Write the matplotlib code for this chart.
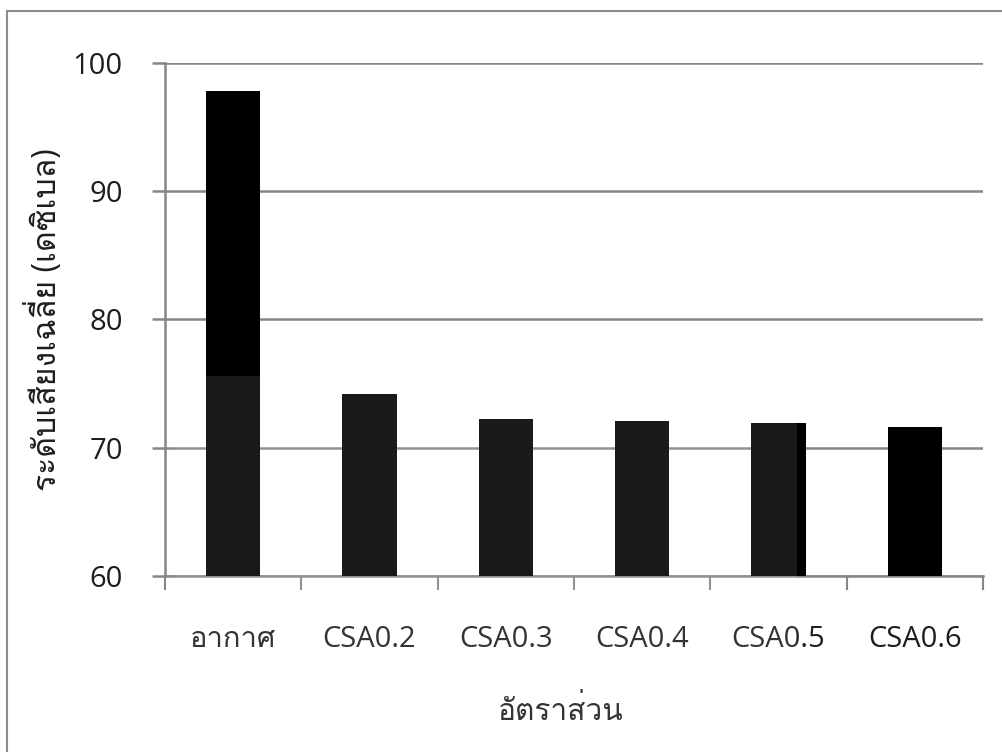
import matplotlib
matplotlib.use("Agg")
import matplotlib.pyplot as plt
from matplotlib import font_manager
from matplotlib.ft2font import FT2Font
from matplotlib.patches import Rectangle

categories = ["อากาศ", "CSA0.2", "CSA0.3", "CSA0.4", "CSA0.5", "CSA0.6"]
values = [97.8, 74.2, 72.2, 72.05, 71.9, 71.6]
y_ticks = [60, 70, 80, 90, 100]
x_label = "อัตราส่วน"
y_label = "ระดับเสียงเฉลี่ย (เดซิเบล)"

# find a regular-weight font that covers Thai
best = None
for f in font_manager.fontManager.ttflist:
    try:
        cm = FT2Font(f.fname).get_charmap()
    except Exception:
        continue
    if 0x0E01 in cm and 0x0E32 in cm and f.style == "normal":
        w = f.weight if isinstance(f.weight, int) else 400
        score = abs(w - 400)
        if best is None or score < best[0]:
            best = (score, f)
thai_font = best[1] if best else None

families = ["Open Sans", "DejaVu Sans"]
if thai_font is not None:
    font_manager.fontManager.addfont(thai_font.fname)
    families = ["Open Sans", thai_font.name, "DejaVu Sans"]
plt.rcParams["font.family"] = families

W, H = 1003, 752
fig = plt.figure(figsize=(W / 100, H / 100), dpi=100)
fig.patch.set_facecolor("white")

left, right, top, bottom = 165, 983, 62.5, 576
ax = fig.add_axes([left / W, 1 - bottom / H, (right - left) / W, (bottom - top) / H])

grid_c = "#868686"
txt_c = "#1e1e1e"
x = list(range(len(categories)))
ax.bar(x, [v - 60 for v in values], bottom=60, width=0.4, color="black", zorder=3)

ax.set_xlim(-0.5, len(categories) - 0.5)
ax.set_ylim(60, 100)
ax.set_yticks(y_ticks)
ax.yaxis.grid(True, color=grid_c, linewidth=1.8, zorder=0)
ax.set_axisbelow(True)

for s in ["top", "right"]:
    ax.spines[s].set_visible(False)
for s in ["left", "bottom"]:
    ax.spines[s].set_color(grid_c)
    ax.spines[s].set_linewidth(1.8)

ax.set_xticks(x)
ax.set_xticklabels(categories)
ax.set_xticks([i - 0.5 for i in range(len(categories) + 1)], minor=True)
ax.tick_params(axis="x", which="major", length=0, pad=35, labelsize=21, labelcolor=txt_c)
ax.tick_params(axis="x", which="minor", length=10, width=1.5, color=grid_c)
ax.tick_params(axis="y", length=9.4, width=1.8, color=grid_c, pad=21, labelsize=21, labelcolor=txt_c)

fig.text(45 / W, 1 - 320 / H, y_label, rotation=90, ha="center", va="center",
         fontsize=23, color=txt_c)
fig.text(561 / W, 1 - 712 / H, x_label, ha="center", va="center",
         fontsize=21.5, color=txt_c)

# translucent watermark box seen in the scan
fig.patches.append(Rectangle((175 / W, 0), (797 - 175) / W, 1 - 376 / H,
                             transform=fig.transFigure, facecolor="white",
                             alpha=0.1, edgecolor="none", zorder=10))

# chart-area border
fig.add_artist(plt.Line2D([7.5 / W, 7.5 / W], [0, 1 - 11 / H], transform=fig.transFigure,
                          color="#8c8c8c", linewidth=1.5))
fig.add_artist(plt.Line2D([7.5 / W, 1], [1 - 11 / H, 1 - 11 / H], transform=fig.transFigure,
                          color="#8c8c8c", linewidth=1.5))

fig.savefig("out.png", dpi=100)
